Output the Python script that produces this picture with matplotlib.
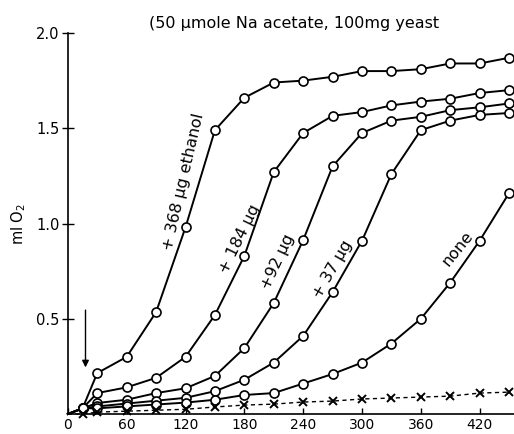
import numpy as np
import matplotlib
matplotlib.use('Agg')
import matplotlib.pyplot as plt

# time (min) after start; 0 is the baseline before the first reading
times = [0, 15, 30, 60, 90, 120, 150, 180, 210, 240, 270, 300, 330, 360, 390, 420, 450]

# ml O2 uptake
eth368 = [0, 0.03, 0.215, 0.30, 0.535, 0.98, 1.49, 1.66, 1.74, 1.75, 1.77, 1.80, 1.80, 1.81, 1.84, 1.84, 1.87]
eth184 = [0, 0.03, 0.11, 0.14, 0.19, 0.30, 0.52, 0.83, 1.27, 1.475, 1.565, 1.585, 1.62, 1.64, 1.655, 1.685, 1.70]
eth92  = [0, 0.03, 0.058, 0.075, 0.11, 0.135, 0.20, 0.346, 0.583, 0.913, 1.30, 1.475, 1.54, 1.56, 1.595, 1.61, 1.63]
eth37  = [0, 0.03, 0.04, 0.055, 0.07, 0.085, 0.12, 0.18, 0.27, 0.41, 0.64, 0.91, 1.26, 1.49, 1.54, 1.57, 1.58]
none   = [0, 0.03, 0.03, 0.04, 0.05, 0.06, 0.075, 0.10, 0.11, 0.16, 0.21, 0.27, 0.37, 0.50, 0.69, 0.91, 1.16]
ctrl   = [0, 0.0, 0.01, 0.015, 0.02, 0.025, 0.037, 0.047, 0.052, 0.063, 0.068, 0.079, 0.084, 0.089, 0.094, 0.11, 0.115]

curve_labels = ['+ 368 \u00b5g ethanol', '+ 184 \u00b5g', '+92 \u00b5g', '+ 37 \u00b5g', 'none']
xticks = [0, 60, 120, 180, 240, 300, 360, 420]
yticks = [0.5, 1.0, 1.5, 2.0]

plt.rcParams['font.family'] = ['DejaVu Sans']

fig = plt.figure(figsize=(5.14, 4.34), dpi=100)
ax = fig.add_axes([0.132, 0.046, 0.868, 0.878])

for s in [eth368, eth184, eth92, eth37, none]:
    ax.plot(times, s, '-', color='black', lw=1.4, marker='o', ms=6.5,
            mfc='white', mec='black', mew=1.2, markevery=list(range(1, len(times))),
            clip_on=False, zorder=3)

ax.plot(times, ctrl, '--', color='black', lw=1.0, dashes=(3, 2.5), marker='x', ms=6,
        mew=1.4, markevery=list(range(1, len(times))), clip_on=False, zorder=3)

# curve labels
lab_pos = [(118, 1.22, 77), (175, 0.92, 64), (214, 0.80, 65), (270, 0.76, 60), (398, 0.87, 51)]
for txt, (x, y, r) in zip(curve_labels, lab_pos):
    ax.text(x, y, txt, rotation=r, ha='center', va='center', fontsize=11.5)

# addition arrow
ax.annotate('', xy=(18, 0.23), xytext=(18, 0.56),
            arrowprops=dict(arrowstyle='-|>', color='black', lw=1.0,
                            mutation_scale=10))

ax.set_xlim(0, 455)
ax.set_ylim(0, 2.0)
ax.set_xticks(xticks)
ax.set_yticks(yticks)
ax.set_yticklabels(['0.5', '1.0', '1.5', '2.0'])
ax.spines['top'].set_visible(False)
ax.spines['right'].set_visible(False)
ax.spines['left'].set_linewidth(1.2)
ax.spines['bottom'].set_linewidth(1.2)
ax.tick_params(axis='x', direction='in', length=4, width=1, labelsize=10, pad=3)
ax.tick_params(axis='y', direction='inout', length=8, width=1, labelsize=10.5, pad=2)

ax.set_ylabel('ml O$_2$', fontsize=10.5, labelpad=6)
fig.text(0.572, 0.945, '(50 \u00b5mole Na acetate, 100mg yeast', ha='center',
         va='center', fontsize=11.5)

fig.savefig('out.png', dpi=100)
